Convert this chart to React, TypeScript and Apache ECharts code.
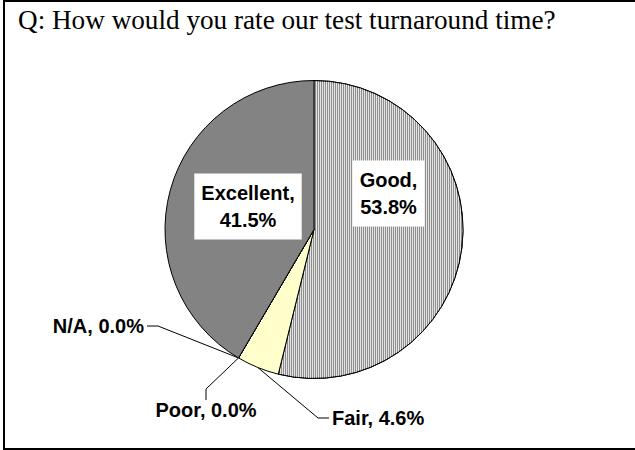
import React, { useEffect, useRef } from "react";
import * as echarts from "echarts";

const titleText = "Q: How would you rate our test turnaround time?";
const categories = ["Good", "Fair", "Poor", "N/A", "Excellent"];
const values = [53.8, 4.6, 0.0, 0.0, 41.5];
const sliceColors = ["#8e8e8e", "#ffffcc", "#ffffff", "#ffffff", "#838383"];
const insideLabels = ["Good", "Excellent"];

// label placement (pixels) per category
const labelPlacement: Record<string, { x: number; y: number; align: string }> = {
  Good: { x: 388.5, y: 193.5, align: "center" },
  Excellent: { x: 248, y: 206.5, align: "center" },
  "N/A": { x: 147, y: 326, align: "right" },
  Poor: { x: 206, y: 410, align: "center" },
  Fair: { x: 329, y: 418, align: "left" },
};

export default function App() {
  const ref = useRef<HTMLDivElement>(null);
  useEffect(() => {
    if (!ref.current) return;
    const chart = echarts.init(ref.current, null, { renderer: "svg" });
    const data = categories.map((name, i) => {
      const inside = insideLabels.includes(name);
      const item: any = {
        name,
        value: values[i],
        itemStyle: { color: sliceColors[i] },
        label: inside
          ? {
              position: "inside",
              backgroundColor: "#ffffff",
              padding: [6, 7],
              lineHeight: 27,
            }
          : { position: "outside", lineHeight: 20, padding: [0, 3] },
        labelLine: { show: !inside },
      };
      if (name === "Good") {
        item.itemStyle.decal = {
          symbol: "rect",
          symbolSize: 1,
          color: "#e4e4e4",
          dashArrayX: [1, 1],
          dashArrayY: [1, 0],
          rotation: 0,
        };
      }
      return item;
    });
    chart.setOption({
      animation: false,
      backgroundColor: "#ffffff",
      title: {
        text: titleText,
        left: 18,
        top: 6,
        padding: 0,
        textStyle: {
          fontFamily: "Liberation Serif",
          fontSize: 27.2,
          fontWeight: "normal",
          color: "#000000",
        },
      },
      graphic: [
        {
          type: "rect",
          silent: true,
          shape: { x: 4, y: 1, width: 640, height: 448 },
          style: { fill: "none", stroke: "#000000", lineWidth: 2 },
        },
      ],
      series: [
        {
          type: "pie",
          center: [314, 229.5],
          radius: 149,
          startAngle: 90,
          clockwise: true,
          avoidLabelOverlap: false,
          itemStyle: { borderColor: "#000000", borderWidth: 1 },
          label: {
            show: true,
            color: "#000000",
            fontFamily: "Liberation Sans",
            fontWeight: "bold",
            fontSize: 20,
            formatter: (p: any) =>
              insideLabels.includes(p.name)
                ? `${p.name},\n${Number(p.value).toFixed(1)}%`
                : `${p.name}, ${Number(p.value).toFixed(1)}%`,
          },
          labelLine: {
            show: true,
            length: 10,
            length2: 11,
            lineStyle: { color: "#000000", width: 1 },
          },
          labelLayout: (params: any) => {
            const name = categories[params.dataIndex];
            const p = labelPlacement[name];
            return {
              x: p.x,
              y: p.y,
              align: p.align,
              verticalAlign: "middle",
            };
          },
          emphasis: { disabled: true },
          data,
        },
      ],
    });
    return () => chart.dispose();
  }, []);
  return (
    <div
      ref={ref}
      style={{ position: "absolute", left: 0, top: 0, width: 635, height: 450 }}
    />
  );
}
